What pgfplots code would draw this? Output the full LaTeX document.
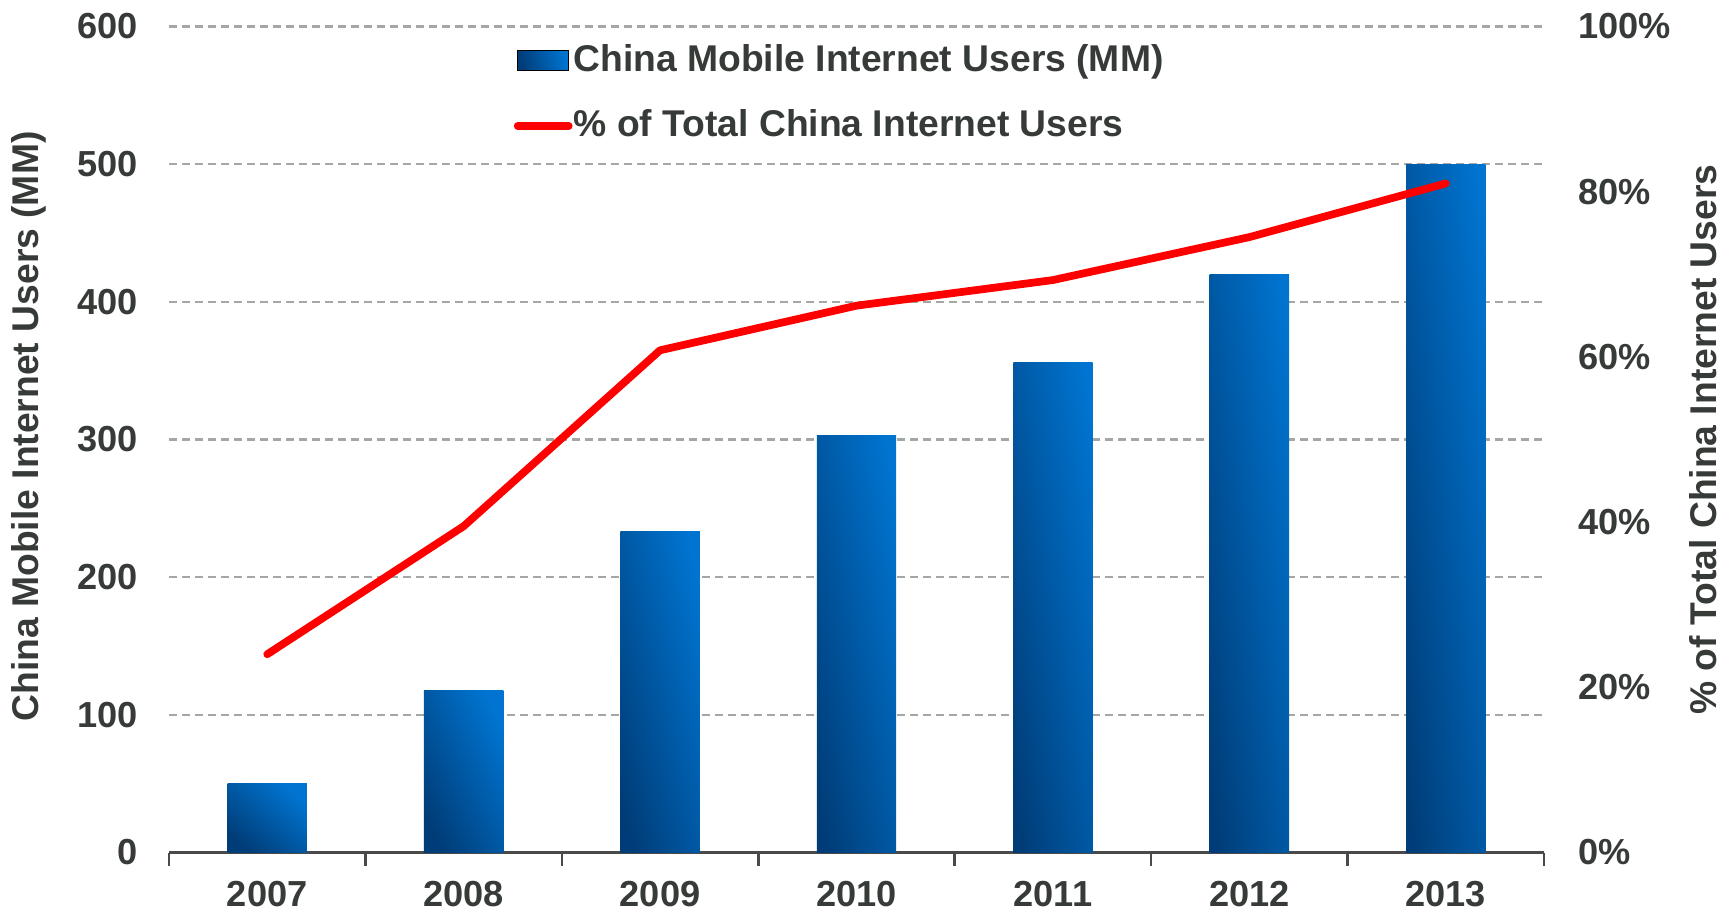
\documentclass[border=0pt]{standalone}
\usepackage{fontspec}
\setmainfont{Liberation Sans}
\usepackage{pgfplots}
\pgfplotsset{compat=1.18}

\definecolor{txtgray}{HTML}{373B38}
\definecolor{axgray}{HTML}{4A4A4A}
\definecolor{gridgray}{HTML}{A3A8A5}
\definecolor{barDark}{HTML}{003D78}
\definecolor{barLight}{HTML}{0074D0}
\definecolor{lineRed}{HTML}{FF0000}

\newcommand{\tickfont}{\color{txtgray}\bfseries\fontsize{10.3}{12}\selectfont}
\newcommand{\labfont}{\color{txtgray}\bfseries\fontsize{10.6}{12}\selectfont}

\pgfplotsset{
  base/.style={
    width=13.75cm, height=8.26cm, scale only axis,
    xmin=-0.5, xmax=6.5,
    /pgf/number format/assume math mode=true,
    tick label style={font=\tickfont},
    ytick style={draw=none},
    y axis line style={draw=none},
  },
  % one plot per bar so that every bar gets its own gradient;
  % the angle makes it run from the lower left to the upper right corner
  bluebar/.style={ybar, bar width=0.404, draw=none,
    /tikz/top color=barLight, /tikz/bottom color=barDark,
    /tikz/shading angle=#1},
}

\begin{document}
\begin{tikzpicture}
\begin{axis}[
    base,
    name=ax1,
    ymin=0, ymax=600,
    ytick={0,100,...,600},
    axis x line*=bottom,
    axis y line*=left,
    x axis line style={draw=axgray, line width=0.7pt, -},
    xtick={-0.5,0.5,...,6.5},
    xticklabels={2007,2008,2009,2010,2011,2012,2013},
    x tick label as interval,
    tick align=outside,
    major tick length=0.13cm,
    xtick style={draw=axgray, line width=0.7pt},
    yticklabel style={xshift=-0.06cm},
    xticklabel style={yshift=-0.03cm},
    ymajorgrids,
    grid style={gridgray, line width=0.6pt, dash pattern=on 0.08cm off 0.05cm},
    every axis y label/.style={at={([xshift=-1.40cm, yshift=0.13cm]rel axis cs:0,0.5)},
        anchor=center, rotate=90, font=\labfont},
    ylabel={China Mobile Internet Users (MM)},
]
\addplot[bluebar=-41.0] coordinates {(0,50)};
\addplot[bluebar=-64.0] coordinates {(1,118)};
\addplot[bluebar=-76.1] coordinates {(2,233)};
\addplot[bluebar=-79.2] coordinates {(3,303)};
\addplot[bluebar=-80.8] coordinates {(4,356)};
\addplot[bluebar=-82.2] coordinates {(5,420)};
\addplot[bluebar=-83.4] coordinates {(6,500)};
\end{axis}

\begin{axis}[
    base,
    ymin=0, ymax=100,
    ytick={0,20,...,100},
    axis x line=none,
    axis y line*=right,
    yticklabel={\pgfmathprintnumber{\tick}\%},
    yticklabel style={anchor=west, xshift=0.22cm},
    every axis y label/.style={at={([xshift=1.59cm]rel axis cs:1,0.5)},
        anchor=center, rotate=90, font=\labfont},
    ylabel={\% of Total China Internet Users},
    legend style={at={(rel axis cs:0.2426,0.996)}, anchor=north west,
        draw=none, fill=none, font=\labfont, row sep=0.19cm,
        nodes={inner xsep=0.01cm},
        legend cell align=left},
]
\addlegendimage{legend image code/.code={
    \path[top color=barLight, bottom color=barDark, shading angle=-75]
        (0cm,-0.1cm) rectangle (0.51cm,0.1cm);}}
\addlegendentry{China Mobile Internet Users (MM)}
\addplot[lineRed, line width=2.2pt, line join=round, line cap=round,
    legend image code/.code={\draw[lineRed, line width=2.2pt, line cap=round]
        (0cm,0cm) -- (0.51cm,0cm);}]
    coordinates {(0,24.0) (1,39.5) (2,60.8) (3,66.2) (4,69.3) (5,74.5) (6,81.0)};
\addlegendentry{\% of Total China Internet Users}
\end{axis}

\pgfresetboundingbox
\path ([shift={(-1.69cm,-0.61cm)}]ax1.south west) rectangle ([shift={(1.85cm,0.265cm)}]ax1.north east);
\end{tikzpicture}
\end{document}
